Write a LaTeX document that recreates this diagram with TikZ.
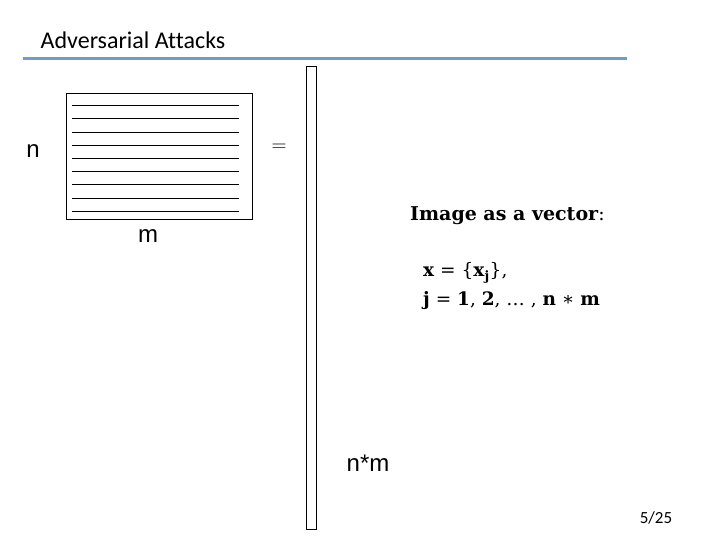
\documentclass[tikz,border=0pt]{standalone}
\usepackage{fontspec}
\setmainfont[Ligatures=CommonOff]{Carlito}
\newfontfamily\arialf{Liberation Sans}
\newfontfamily\serifb{DejaVu Serif}
\definecolor{rulebl}{RGB}{114,154,204}
\begin{document}
\begin{tikzpicture}[x=1pt,y=-1pt,
  lbl/.style={inner sep=0pt,font=\arialf\fontsize{24}{28}\selectfont},
  rowline/.style={line width=1pt},
  frame/.style={draw,line width=1.2pt}]
\useasboundingbox (0,0) rectangle (720,540);
\node[inner sep=0pt,font=\fontsize{24}{28}\selectfont] (title) at (133,40) {Adversarial Attacks};
\draw[rulebl,line width=3pt] (23,59) coordinate (r1) -- (627,59) coordinate (r2);
% matrix
\node[frame,minimum width=186,minimum height=126,inner sep=0pt,anchor=north west] (mat) at (66,93) {};
\foreach \yy in {105.7,119,132.2,145.4,158.6,171.8,185,198.2,211.4}
  \draw[rowline] (72,\yy) -- (239,\yy);
\node[lbl] (n) at (33,151) {n};
\node[lbl] (m) at (148,236) {m};
\node[inner sep=0pt,font=\fontsize{22}{26}\selectfont] (eq) at (279,148) {$=$};
% vector
\node[frame,minimum width=10,minimum height=463,inner sep=0pt,anchor=north west] (vec) at (306,66) {};
\node[lbl] (nm) at (368,463) {n*m};
% text
\node[inner sep=0pt,anchor=west,font=\serifb\bfseries\fontsize{19}{23}\selectfont] (img) at (410,216) {Image as a vector\textmd{:}};
\node[inner sep=0pt,anchor=west,font=\serifb\fontsize{18.5}{22}\selectfont] (eq1) at (423,273) {\textbf{x} = \{\textbf{x}\textsubscript{\textbf{j}}\},};
\node[inner sep=0pt,anchor=west,font=\serifb\fontsize{18.5}{22}\selectfont] (eq2) at (423,301) {\textbf{j} = \textbf{1}, \textbf{2}, … , \textbf{n} ∗ \textbf{m}};
\node[inner sep=0pt,font=\fontsize{17}{20}\selectfont] (pg) at (656,518) {5/25};
\end{tikzpicture}
\end{document}
